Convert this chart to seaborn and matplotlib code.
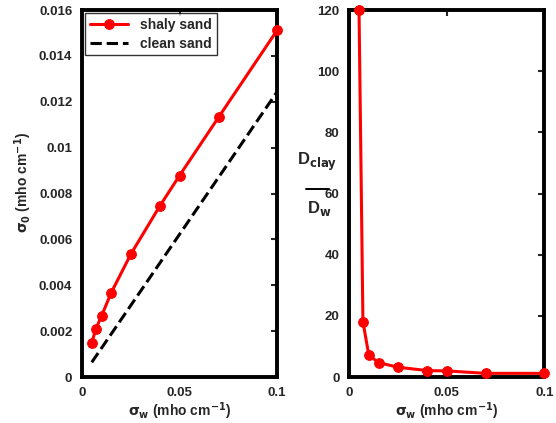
import matplotlib
matplotlib.use("Agg")
import matplotlib.pyplot as plt
from matplotlib.lines import Line2D
import numpy as np
import pandas as pd
import seaborn as sns

# data
sigma_w = [0.005, 0.007, 0.01, 0.015, 0.025, 0.04, 0.05, 0.07, 0.1]
sigma0_shaly = [0.00147, 0.00208, 0.00266, 0.00368, 0.00535, 0.00747, 0.00878, 0.01132, 0.01511]
sigma0_clean = [0.00064, 0.00089, 0.00126, 0.00188, 0.00312, 0.00498, 0.00622, 0.00870, 0.01243]
d_ratio = [120.0, 18.1, 7.2, 4.7, 3.2, 2.1, 2.0, 1.2, 1.2]

left_yticks = [0, 0.002, 0.004, 0.006, 0.008, 0.01, 0.012, 0.014, 0.016]
left_yticklabels = ["0", "0.002", "0.004", "0.006", "0.008", "0.01", "0.012", "0.014", "0.016"]
right_yticks = [0, 20, 40, 60, 80, 100, 120]
xticks = [0, 0.05, 0.1]
xticklabels = ["0", "0.05", "0.1"]

df = pd.DataFrame({"sw": sigma_w, "shaly": sigma0_shaly, "clean": sigma0_clean, "ratio": d_ratio})

sns.set_style("white")
plt.rcParams["font.family"] = ["Liberation Sans", "DejaVu Sans"]
plt.rcParams["font.weight"] = "bold"
plt.rcParams["mathtext.default"] = "bf"

fig = plt.figure(figsize=(5.56, 4.23), dpi=100)
ax1 = fig.add_axes([0.1475, 0.1087, 0.3507, 0.8676])
ax2 = fig.add_axes([0.6282, 0.1087, 0.3508, 0.8676])

sns.lineplot(data=df, x="sw", y="shaly", ax=ax1, color="red", marker="o",
             markersize=7, markeredgecolor="red", linewidth=2.2, label="shaly sand",
             clip_on=False, zorder=5)
sns.lineplot(data=df, x="sw", y="clean", ax=ax1, color="black", linestyle="--",
             linewidth=2.2, label="clean sand")
sns.lineplot(data=df, x="sw", y="ratio", ax=ax2, color="red", marker="o",
             markersize=7, markeredgecolor="red", linewidth=2.2, clip_on=False, zorder=5)

for ax in (ax1, ax2):
    ax.set_xlim(0, 0.1)
    ax.set_xticks(xticks)
    ax.set_xticklabels(xticklabels)
    ax.tick_params(direction="in", top=True, right=True, length=4, width=1.5,
                   labelsize=9.5)
    ax.tick_params(axis="x", pad=7)
    ax.tick_params(axis="y", pad=7)
    for sp in ax.spines.values():
        sp.set_linewidth(2.8)
        sp.set_color("black")
    ax.set_xlabel(r"$\sigma_w$ (mho cm$^{-1}$)", fontsize=10, fontweight="bold", labelpad=1)
    for lab in ax.get_xticklabels() + ax.get_yticklabels():
        lab.set_fontweight("bold")

ax1.set_ylim(0, 0.016)
ax1.set_yticks(left_yticks)
ax1.set_yticklabels(left_yticklabels)
for lab in ax1.get_yticklabels():
    lab.set_fontweight("bold")
ax1.set_ylabel(r"$\sigma_0$ (mho cm$^{-1}$)", fontsize=10, fontweight="bold")
ax1.yaxis.set_label_coords(-0.245, 0.53)

leg = ax1.legend(loc="upper left", fontsize=10, frameon=True, fancybox=False,
                 handlelength=2.7, borderpad=0.35, labelspacing=0.3,
                 borderaxespad=0.25, handletextpad=0.9)
leg.get_frame().set_edgecolor("black")
leg.get_frame().set_linewidth(1.0)
for t in leg.get_texts():
    t.set_fontweight("bold")

ax2.set_ylim(0, 120)
ax2.set_yticks(right_yticks)
ax2.set_ylabel("")
for lab in ax2.get_yticklabels():
    lab.set_fontweight("bold")

# fraction label D_clay / D_w
fig.text(297 / 556, 1 - 162 / 423, r"D$_{\mathrm{clay}}$", fontsize=12, fontweight="bold",
         ha="left", va="center")
fig.add_artist(Line2D([306 / 556, 329 / 556], [1 - 189 / 423, 1 - 189 / 423],
                      color="black", linewidth=1.4, transform=fig.transFigure))
fig.text(307 / 556, 1 - 209 / 423, r"D$_{\mathrm{w}}$", fontsize=12, fontweight="bold",
         ha="left", va="center")

fig.savefig("out.png", dpi=100)
